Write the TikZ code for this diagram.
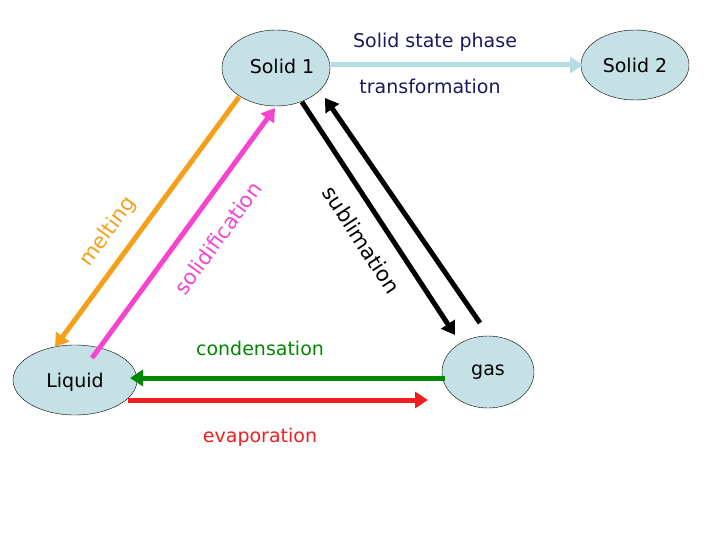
\documentclass[tikz,border=0pt]{standalone}
\usepackage{fontspec}
\setmainfont{DejaVu Sans}
\usetikzlibrary{arrows.meta}
\definecolor{fillb}{HTML}{C5E1E5}
\definecolor{navy}{HTML}{1A1A5E}
\definecolor{orng}{HTML}{F5A01A}
\definecolor{mag}{HTML}{F545D0}
\definecolor{grn}{HTML}{008800}
\definecolor{rd}{HTML}{F02020}
\definecolor{lb}{HTML}{B3DCE3}
\begin{document}
\begin{tikzpicture}[x=1pt,y=-1pt,
  ar/.style={line width=5pt,-{Triangle[length=13pt,width=16pt]}},
  lab/.style={font=\fontsize{19}{22}\selectfont},
  rl/.style={font=\fontsize{21}{24}\selectfont}]
\useasboundingbox (0,0) rectangle (720,540);
\draw[fill=fillb,draw=black] (276,68) ellipse (54 and 38);
\node[lab] (s1) at (282,66) {Solid 1};
\draw[fill=fillb,draw=black] (635,65) ellipse (54 and 35);
\node[lab] (s2) at (635,65) {Solid 2};
\draw[fill=fillb,draw=black] (75,380) ellipse (62 and 35);
\node[lab] (lq) at (75,382) {Liquid};
\draw[fill=fillb,draw=black] (488,372) ellipse (46 and 36);
\node[lab] (gs) at (488,372) {gas};
\coordinate (a1) at (331,65); \coordinate (a2) at (583,65);
\draw[ar,lb] (a1) -- (a2);
\node[lab,navy] (t1) at (435,42) {Solid state phase};
\node[lab,navy] (t2) at (430,86) {transformation};
\coordinate (o1) at (239,97); \coordinate (o2) at (55,347);
\draw[ar,orng] (o1) -- (o2);
\coordinate (m1) at (92,358); \coordinate (m2) at (275,108);
\draw[ar,mag] (m1) -- (m2);
\coordinate (b1) at (302,102); \coordinate (b2) at (455,335);
\draw[ar,black] (b1) -- (b2);
\coordinate (c1) at (480,323); \coordinate (c2) at (325,98);
\draw[ar,black] (c1) -- (c2);
\coordinate (g1) at (445,378); \coordinate (g2) at (130,378);
\draw[ar,grn] (g1) -- (g2);
\coordinate (r1) at (128,400); \coordinate (r2) at (428,400);
\draw[ar,rd] (r1) -- (r2);
\node[rl,orng,rotate=54] (lm) at (108,232) {melting};
\node[rl,mag,rotate=54] (ls) at (218,238) {solidification};
\node[rl,black,rotate=-57] (lsb) at (362,240) {sublimation};
\node[lab,grn] (lc) at (260,348) {condensation};
\node[lab,rd] (le) at (260,437) {evaporation};
\end{tikzpicture}
\end{document}
